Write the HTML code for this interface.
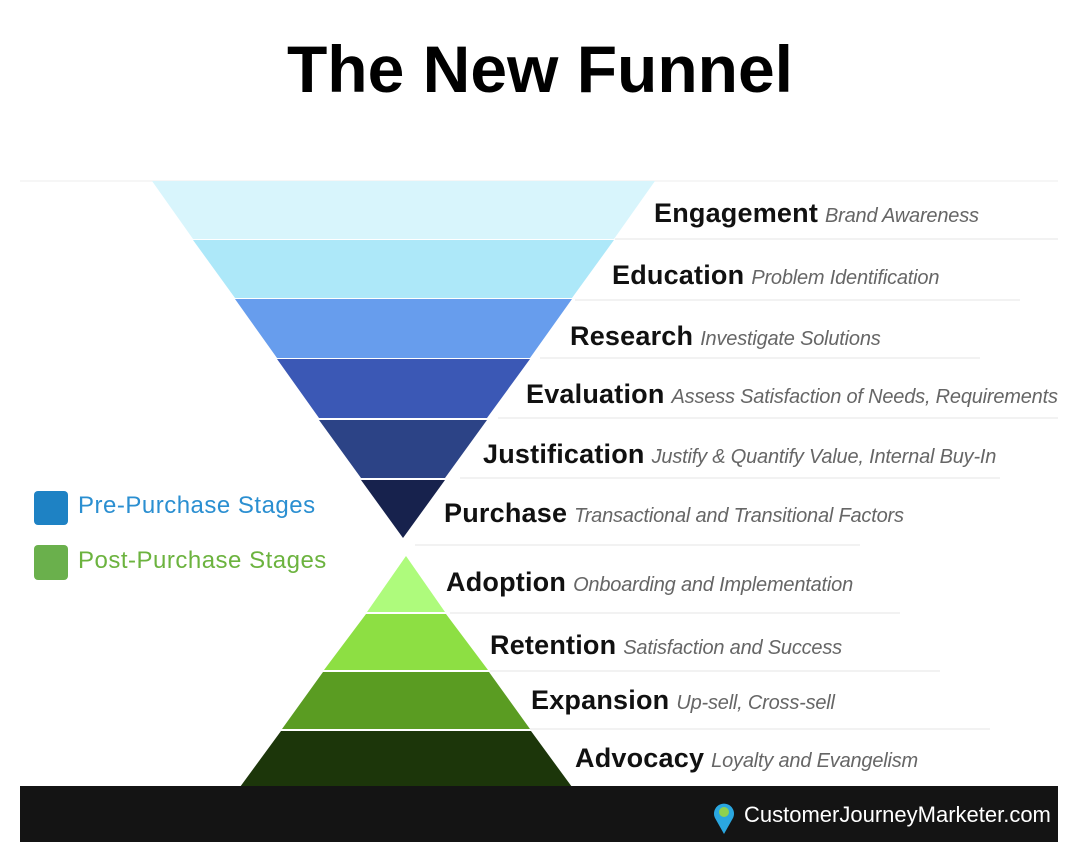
<!DOCTYPE html>
<html><head><meta charset="utf-8"><style>
body{margin:0;width:1068px;height:844px;background:#fff;position:relative;overflow:hidden;font-family:"Liberation Sans",sans-serif}
.t{position:absolute;white-space:nowrap;line-height:1}
.l{font-weight:bold;font-size:27px;color:#111;letter-spacing:0.2px}
.s{font-style:italic;font-size:20px;color:#666;font-weight:normal;letter-spacing:-0.2px;margin-left:7px}
</style></head><body>
<div class="t" style="left:0;width:1080px;text-align:center;top:36px;font-size:66px;font-weight:bold;color:#000">The New Funnel</div>
<svg width="1068" height="844" style="position:absolute;left:0;top:0">
<line x1="20" y1="181" x2="1058" y2="181" stroke="#eee" stroke-width="1"/>
<g stroke="#eee" stroke-width="1.5">
<line x1="615" y1="239" x2="1058" y2="239"/>
<line x1="575" y1="300" x2="1020" y2="300"/>
<line x1="540" y1="358" x2="980" y2="358"/>
<line x1="498" y1="418" x2="1058" y2="418"/>
<line x1="460" y1="478" x2="1000" y2="478"/>
<line x1="415" y1="545" x2="860" y2="545"/>
<line x1="450" y1="613" x2="900" y2="613"/>
<line x1="490" y1="671" x2="940" y2="671"/>
<line x1="530" y1="729" x2="990" y2="729"/>
</g>
<polygon points="152,181 655,181 614,239 193,239" fill="#d8f5fc"/>
<polygon points="193,240 614,240 572,298 235,298" fill="#ade8f9"/>
<polygon points="235,299 572,299 530,358 277,358" fill="#679ded"/>
<polygon points="277,359 530,359 487,418 319,418" fill="#3b58b5"/>
<polygon points="319,420 487,420 445,478 361,478" fill="#2c4386"/>
<polygon points="361,480 445,480 403,538" fill="#17224d"/>
<polygon points="406,556 445,612 367,612" fill="#aefb7c"/>
<polygon points="366,614 446,614 488,670 324,670" fill="#8ddf43"/>
<polygon points="323,672 489,672 530,729 282,729" fill="#5a9c22"/>
<polygon points="281,731 531,731 572,787 240,787" fill="#1c360a"/>
<rect x="20" y="786" width="1038" height="56" fill="#141414"/>
<rect x="34" y="491" width="34" height="34" rx="4" fill="#1e82c4"/>
<rect x="34" y="545" width="34" height="35" rx="4" fill="#6ab04c"/>
<path d="M724 834 L715 818 A10 10 0 1 1 733 818 Z" fill="#2aa7e0"/>
<circle cx="724" cy="812" r="5" fill="#8fd14f"/>
</svg>
<div class="t" style="left:78px;top:494px;font-size:24px;color:#2b8fd1;letter-spacing:0.5px">Pre-Purchase Stages</div>
<div class="t" style="left:78px;top:549px;font-size:24px;color:#6cb33f;letter-spacing:0.5px">Post-Purchase Stages</div>
<div class="t l" style="left:654px;top:200px">Engagement<span class="s">Brand Awareness</span></div>
<div class="t l" style="left:612px;top:262px">Education<span class="s">Problem Identification</span></div>
<div class="t l" style="left:570px;top:323px">Research<span class="s">Investigate Solutions</span></div>
<div class="t l" style="left:526px;top:381px">Evaluation<span class="s">Assess Satisfaction of Needs, Requirements</span></div>
<div class="t l" style="left:483px;top:441px">Justification<span class="s">Justify &amp; Quantify Value, Internal Buy-In</span></div>
<div class="t l" style="left:444px;top:500px">Purchase<span class="s">Transactional and Transitional Factors</span></div>
<div class="t l" style="left:446px;top:569px">Adoption<span class="s">Onboarding and Implementation</span></div>
<div class="t l" style="left:490px;top:632px">Retention<span class="s">Satisfaction and Success</span></div>
<div class="t l" style="left:531px;top:687px">Expansion<span class="s">Up-sell, Cross-sell</span></div>
<div class="t l" style="left:575px;top:745px">Advocacy<span class="s">Loyalty and Evangelism</span></div>
<div class="t" style="left:744px;top:804px;font-size:22px;color:#fff">CustomerJourneyMarketer.com</div>
</body></html>
